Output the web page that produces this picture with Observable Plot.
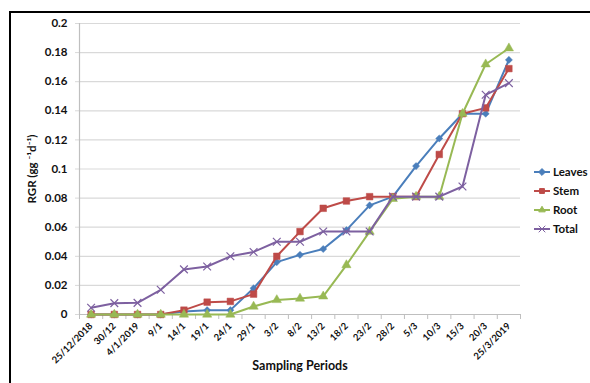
<!DOCTYPE html>
<html>
<head>
<meta charset="utf-8">
<script src="https://cdn.jsdelivr.net/npm/d3@7"></script>
<script src="https://cdn.jsdelivr.net/npm/@observablehq/plot@0.6"></script>
<style>
  html, body { margin: 0; padding: 0; background: #fff; }
  #wrap { position: relative; width: 590px; height: 383px; overflow: hidden; font-family: Lato, "Open Sans", sans-serif; }
  #border { position: absolute; left: 9px; top: 11px; width: 700px; height: 500px; border-left: 2.5px solid #000; border-top: 2.5px solid #000; box-sizing: border-box; }
  #chart { position: absolute; left: 0; top: 0; }
  #legend { position: absolute; left: 533px; top: 162px; font-weight: bold; font-size: 11.5px; color: #111; }
  .item { display: flex; align-items: center; height: 19px; }
  .item svg { margin-right: 2px; }
</style>
</head>
<body>
<div id="wrap"><div id="border"></div><div id="chart"></div><div id="legend"></div></div>
<script>
const categories = ["25/12/2018","30/12","4/1/2019","9/1","14/1","19/1","24/1","29/1","3/2","8/2","13/2","18/2","23/2","28/2","5/3","10/3","15/3","20/3","25/3/2019"];
const leaves = [0,0,0,0,0.002,0.003,0.003,0.018,0.036,0.041,0.045,0.058,0.075,0.081,0.102,0.121,0.138,0.138,0.175];
const stem   = [0,0,0,0,0.003,0.0085,0.009,0.014,0.040,0.057,0.073,0.078,0.081,0.081,0.081,0.110,0.138,0.142,0.169];
const root   = [0,0,0,0,0,0,0,0.0055,0.010,0.011,0.0125,0.034,0.057,0.0795,0.081,0.081,0.138,0.172,0.183];
const total  = [0.0046,0.0078,0.008,0.017,0.031,0.033,0.040,0.043,0.050,0.050,0.057,0.057,0.057,0.081,0.081,0.081,0.088,0.151,0.159];
const seriesNames = ["Leaves","Stem","Root","Total"];
const seriesColors = ["#4a7ebb","#be4b48","#98b954","#7d60a0"];
const seriesSymbols = ["diamond2","square2","triangle2","times"];
const seriesSizes = [3.2,4.2,4.4,3.6];
const yTicks = [0,0.02,0.04,0.06,0.08,0.1,0.12,0.14,0.16,0.18,0.2];
const xTitle = "Sampling Periods";
const yTitle = "RGR (gg \u207B\u00B9d\u207B\u00B9)";

const seriesValues = [leaves, stem, root, total];
const rows = seriesNames.flatMap((s, si) => seriesValues[si].map((v, i) => ({series: s, i, v})));
const idx = categories.map((c, i) => i);
const bounds = categories.map((c, i) => i - 0.5).concat([categories.length - 0.5]);

const marks = [
  Plot.gridY(yTicks, {stroke: "#d9d9d9", strokeOpacity: 1, strokeWidth: 1.2}),
  Plot.axisY(yTicks, {tickSize: 4, stroke: "#d9d9d9", tickPadding: 8, tickFormat: d => String(+d.toFixed(2)),
    fontWeight: "bold", fontSize: 11.5, fill: "#111",
    label: yTitle, labelAnchor: "center", labelOffset: 52, labelArrow: "none"}),
  Plot.ruleX([-0.5], {stroke: "#bfbfbf", strokeWidth: 1.2}),
  Plot.ruleY([0], {stroke: "#bfbfbf", strokeWidth: 1.2}),
  Plot.axisX(bounds, {tickSize: 5, stroke: "#bfbfbf", tickFormat: () => "", label: null}),
  Plot.axisX(idx, {tickSize: 0, tickPadding: 10, tickRotate: -45, tickFormat: i => categories[i],
    fontWeight: "bold", fontSize: 9.5, fill: "#111", label: null}),
  Plot.text([xTitle], {text: d => d, frameAnchor: "bottom", dy: 55, fontSize: 12.5, fontWeight: "bold", fill: "#111"})
];
seriesNames.forEach((s, si) => {
  const d = rows.filter(r => r.series === s);
  marks.push(Plot.line(d, {x: "i", y: "v", stroke: seriesColors[si], strokeWidth: 2}));
  marks.push(Plot.dot(d, {x: "i", y: "v", symbol: seriesSymbols[si], r: seriesSizes[si],
    fill: si === 3 ? "none" : seriesColors[si], stroke: seriesColors[si], strokeWidth: si === 3 ? 1.2 : 0.5}));
});

const chart = Plot.plot({
  width: 590, height: 383,
  marginLeft: 79, marginRight: 70, marginTop: 23, marginBottom: 69,
  style: {fontFamily: "Lato, 'Open Sans', sans-serif", fontWeight: "bold", fontSize: "11.5px", color: "#111", background: "transparent"},
  x: {type: "linear", domain: [-0.5, categories.length - 0.5]},
  y: {domain: [0, 0.2]},
  marks
});
document.getElementById("chart").appendChild(chart);

const legend = document.getElementById("legend");
seriesNames.forEach((s, si) => {
  const item = document.createElement("div");
  item.className = "item";
  const sym = d3.symbol(d3[{diamond2: "symbolDiamond2", square2: "symbolSquare2", triangle2: "symbolTriangle2", times: "symbolTimes"}[seriesSymbols[si]]], 30)();
  item.innerHTML = `<svg width="18" height="10"><line x1="1" x2="17" y1="5" y2="5" stroke="${seriesColors[si]}" stroke-width="2"/>` +
    `<path transform="translate(9,5)" d="${sym}" fill="${si === 3 ? "none" : seriesColors[si]}" stroke="${seriesColors[si]}" stroke-width="1"/></svg><span>${s}</span>`;
  legend.appendChild(item);
});
</script>
</body>
</html>
